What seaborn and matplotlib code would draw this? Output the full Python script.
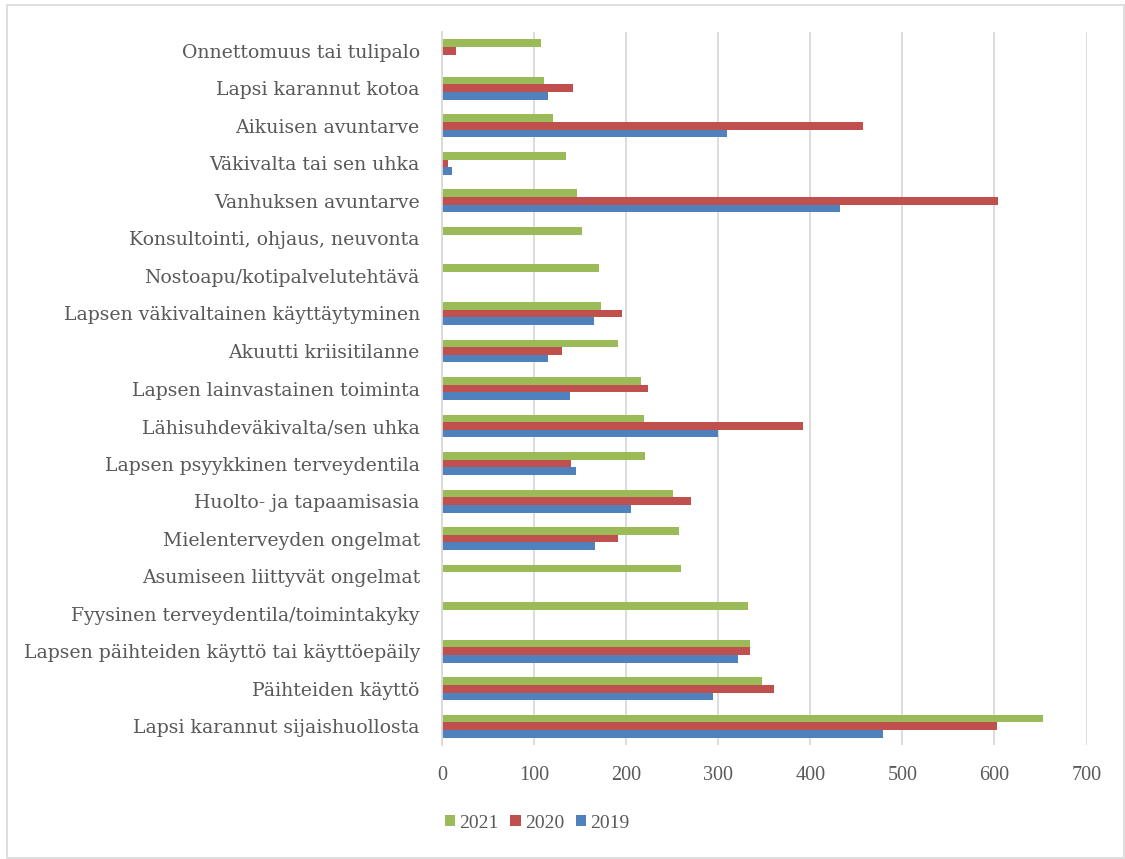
import numpy as np
import pandas as pd
import matplotlib
matplotlib.use("Agg")
import matplotlib.pyplot as plt
from matplotlib.patches import Patch, Rectangle
import seaborn as sns

categories = [
    "Onnettomuus tai tulipalo",
    "Lapsi karannut kotoa",
    "Aikuisen avuntarve",
    "Väkivalta tai sen uhka",
    "Vanhuksen avuntarve",
    "Konsultointi, ohjaus, neuvonta",
    "Nostoapu/kotipalvelutehtävä",
    "Lapsen väkivaltainen käyttäytyminen",
    "Akuutti kriisitilanne",
    "Lapsen lainvastainen toiminta",
    "Lähisuhdeväkivalta/sen uhka",
    "Lapsen psyykkinen terveydentila",
    "Huolto- ja tapaamisasia",
    "Mielenterveyden ongelmat",
    "Asumiseen liittyvät ongelmat",
    "Fyysinen terveydentila/toimintakyky",
    "Lapsen päihteiden käyttö tai käyttöepäily",
    "Päihteiden käyttö",
    "Lapsi karannut sijaishuollosta",
]
years = ["2021", "2020", "2019"]
v2021 = [107, 111, 121, 135, 147, 152, 170, 173, 191, 216, 219, 220, 251, 257, 260, 332, 335, 348, 653]
v2020 = [15, 142, 457, 6, 604, np.nan, np.nan, 196, 130, 224, 392, 140, 270, 191, np.nan, np.nan, 335, 361, 603]
v2019 = [np.nan, 115, 309, 11, 432, np.nan, np.nan, 165, 115, 139, 300, 146, 205, 166, np.nan, np.nan, 321, 294, 479]
colors = ["#9BBB59", "#C0504D", "#4F81BD"]
xticks = [0, 100, 200, 300, 400, 500, 600, 700]

rows = []
for yr, vals in zip(years, [v2021, v2020, v2019]):
    for c, v in zip(categories, vals):
        rows.append({"cat": c, "year": yr, "value": v})
df = pd.DataFrame(rows)

sns.set_style("white")
plt.rcParams["font.family"] = ["DejaVu Serif"]
txt = "#595959"

fig = plt.figure(figsize=(11.25, 8.59), dpi=100)
ax = fig.add_axes([442/1125, 1-745/859, (1086.5-442)/1125, (745-32)/859])

sns.barplot(data=df, y="cat", x="value", hue="year", order=categories,
            hue_order=years, palette=colors, orient="h", width=0.61,
            errorbar=None, ax=ax, legend=False, saturation=1, linewidth=0)

ax.set_xlim(0, 700)
ax.set_xticks(xticks)
ax.set_xticklabels([str(t) for t in xticks], family="Liberation Serif",
                   fontsize=14.5, color=txt)
ax.set_xlabel("")
ax.set_ylabel("")
ax.grid(axis="x", color="#D9D9D9", linewidth=1.3)
ax.grid(axis="y", visible=False)
ax.set_axisbelow(True)
for s in ["top", "right", "bottom"]:
    ax.spines[s].set_visible(False)
ax.spines["left"].set_color("#D9D9D9")
ax.spines["left"].set_linewidth(1.3)
ax.tick_params(axis="x", length=0, pad=15)
ax.tick_params(axis="y", length=0, pad=16, labelsize=13.6, labelcolor=txt)

handles = [Patch(facecolor=c, edgecolor="none") for c in colors]
fig.legend(handles, years, loc="center", ncol=3, frameon=False,
           bbox_to_anchor=(537/1125, 1-823/859), handlelength=0.55,
           handleheight=0.55, handletextpad=0.2, columnspacing=0.6,
           prop={"size": 14, "family": "Liberation Serif"}, labelcolor=txt)

fig.add_artist(Rectangle((7/1125, 1/859), (1124-7)/1125, (854-1)/859,
                         transform=fig.transFigure, fill=False,
                         edgecolor="#D9D9D9", linewidth=1.2))

fig.savefig("out.png", dpi=100)
